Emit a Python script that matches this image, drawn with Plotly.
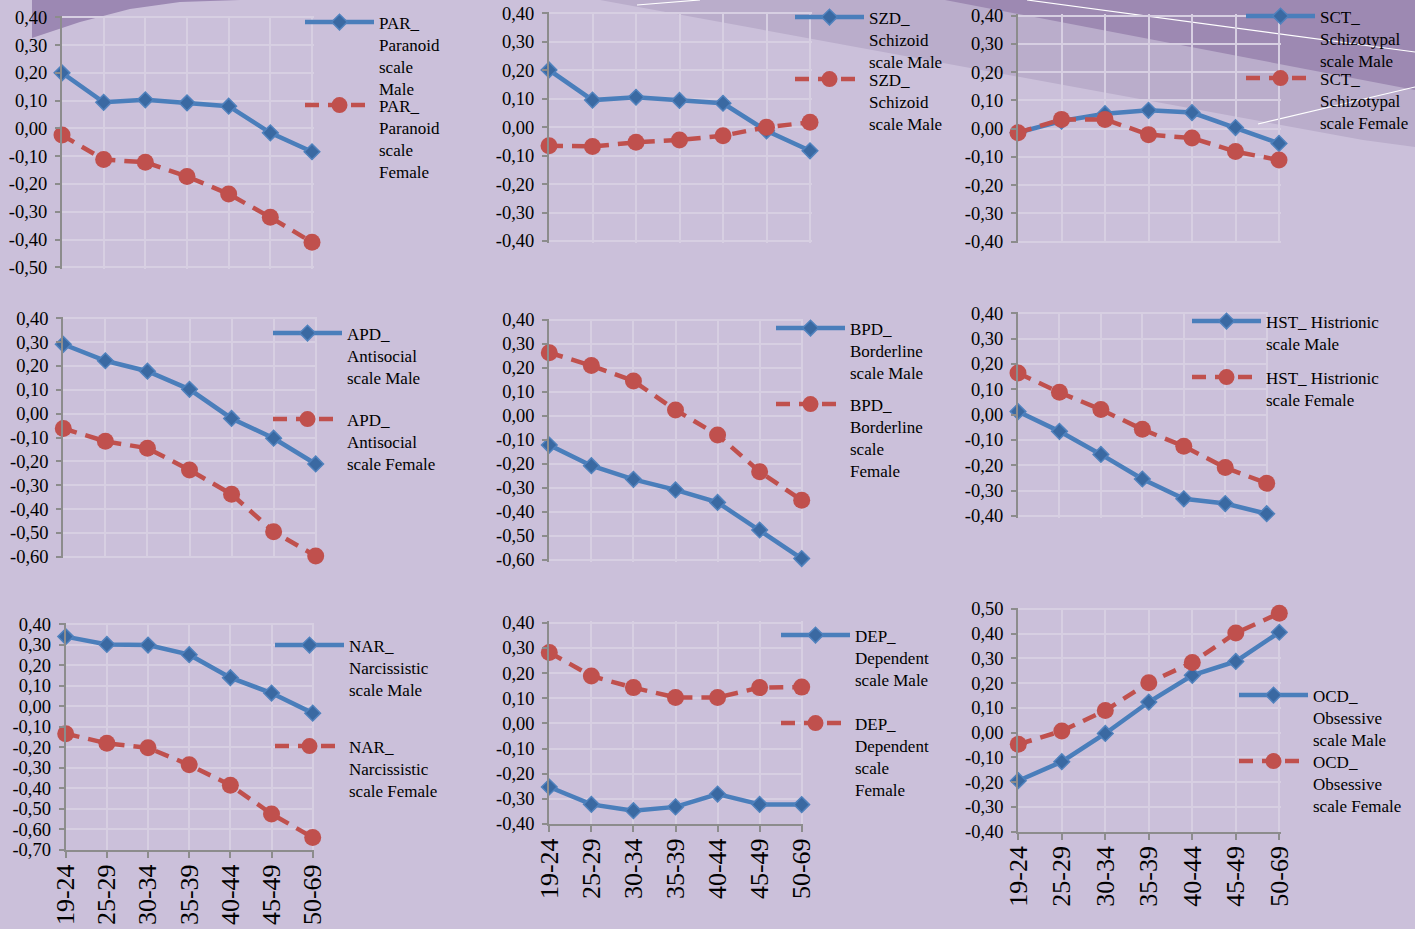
import plotly.graph_objects as go

# ---------------------------------------------------------------- data
age_groups = ["19-24", "25-29", "30-34", "35-39", "40-44", "45-49", "50-69"]

par_male = [0.200, 0.094, 0.103, 0.092, 0.080, -0.016, -0.084]
par_female = [-0.024, -0.112, -0.122, -0.173, -0.236, -0.320, -0.410]

szd_male = [0.201, 0.095, 0.105, 0.094, 0.084, -0.013, -0.083]
szd_female = [-0.065, -0.068, -0.053, -0.045, -0.030, 0.000, 0.017]

sct_male = [-0.014, 0.027, 0.053, 0.065, 0.057, 0.004, -0.052]
sct_female = [-0.014, 0.033, 0.033, -0.021, -0.033, -0.081, -0.111]

apd_male = [0.291, 0.222, 0.178, 0.102, -0.020, -0.103, -0.211]
apd_female = [-0.062, -0.116, -0.145, -0.236, -0.338, -0.495, -0.597]

bpd_male = [-0.121, -0.207, -0.264, -0.308, -0.360, -0.475, -0.594]
bpd_female = [0.264, 0.210, 0.146, 0.025, -0.079, -0.232, -0.351]

hst_male = [0.012, -0.066, -0.157, -0.254, -0.332, -0.351, -0.391]
hst_female = [0.164, 0.088, 0.020, -0.058, -0.125, -0.209, -0.271]

nar_male = [0.340, 0.302, 0.299, 0.252, 0.140, 0.065, -0.033]
nar_female = [-0.133, -0.180, -0.202, -0.285, -0.384, -0.524, -0.639]

dep_male = [-0.253, -0.322, -0.347, -0.332, -0.281, -0.322, -0.323]
dep_female = [0.282, 0.188, 0.142, 0.103, 0.103, 0.142, 0.144]

ocd_male = [-0.194, -0.117, -0.003, 0.124, 0.232, 0.288, 0.406]
ocd_female = [-0.047, 0.007, 0.090, 0.202, 0.284, 0.403, 0.483]

# ---------------------------------------------------------------- styling
W, H = 1415, 929
FONT = "Liberation Serif"
BG = "#CBC0DA"
GRID = "#D7CFE2"
AXIS = "#8C8C8C"
BLUE_LINE = "#4A7EBB"
BLUE_MARK = "#3A69A2"
RED = "#C0504D"
TICK_FONT = 18.5
LEGEND_FONT = 17
XLABEL_FONT = 26
PAD = 1.5          # px kept beyond the outer gridlines so they are drawn
LEG_DX = 79        # legend box left -> legend text start (px)
LEG_DY = 17.5      # legend box top  -> first text line centre (px)

# panel placement in pixels: plot box (left, right, top, bottom),
# legend anchor (text x, male entry y, female entry y)
panels = [
    dict(male=par_male, female=par_female,
         male_name="PAR_<br>Paranoid<br>scale<br>Male",
         female_name="PAR_<br>Paranoid<br>scale<br>Female",
         ymin=-0.5, ymax=0.4, box=(62, 312, 17.3, 267.3),
         leg=(379, 22, 105), xlabels=False),
    dict(male=szd_male, female=szd_female,
         male_name="SZD_<br>Schizoid<br>scale Male",
         female_name="SZD_<br>Schizoid<br>scale Male",
         ymin=-0.4, ymax=0.4, box=(549, 810, 13.3, 241),
         leg=(869, 17, 79), xlabels=False),
    dict(male=sct_male, female=sct_female,
         male_name="SCT_<br>Schizotypal<br>scale Male",
         female_name="SCT_<br>Schizotypal<br>scale Female",
         ymin=-0.4, ymax=0.4, box=(1018, 1279, 15.7, 241.7),
         leg=(1320, 16, 78), xlabels=False),
    dict(male=apd_male, female=apd_female,
         male_name="APD_<br>Antisocial<br>scale Male",
         female_name="APD_<br>Antisocial<br>scale Female",
         ymin=-0.6, ymax=0.4, box=(63.3, 315.7, 318.3, 556.7),
         leg=(347, 333, 419), xlabels=False),
    dict(male=bpd_male, female=bpd_female,
         male_name="BPD_<br>Borderline<br>scale Male",
         female_name="BPD_<br>Borderline<br>scale<br>Female",
         ymin=-0.6, ymax=0.4, box=(549.3, 801.7, 320, 560),
         leg=(850, 328, 404), xlabels=False),
    dict(male=hst_male, female=hst_female,
         male_name="HST_ Histrionic<br>scale Male",
         female_name="HST_ Histrionic<br>scale Female",
         ymin=-0.4, ymax=0.4, box=(1018, 1266.7, 313.3, 516),
         leg=(1266, 321, 377), xlabels=False),
    dict(male=nar_male, female=nar_female,
         male_name="NAR_<br>Narcissistic<br>scale Male",
         female_name="NAR_<br>Narcissistic<br>scale Female",
         ymin=-0.7, ymax=0.4, box=(65.7, 312.7, 624.3, 850),
         leg=(349, 645, 746), xlabels=True),
    dict(male=dep_male, female=dep_female,
         male_name="DEP_<br>Dependent<br>scale Male",
         female_name="DEP_<br>Dependent<br>scale<br>Female",
         ymin=-0.4, ymax=0.4, box=(549.3, 801.7, 622.7, 824),
         leg=(855, 635, 723), xlabels=True),
    dict(male=ocd_male, female=ocd_female,
         male_name="OCD_<br>Obsessive<br>scale Male",
         female_name="OCD_<br>Obsessive<br>scale Female",
         ymin=-0.4, ymax=0.5, box=(1018.3, 1279.3, 609, 831.7),
         leg=(1313, 695, 761), xlabels=True),
]


def comma(v):
    return f"{v:.2f}".replace(".", ",")


def px_path(points):
    """SVG path in paper units from a list of pixel points."""
    parts = [f"{x / W:.5f},{1 - y / H:.5f}" for x, y in points]
    return "M" + " L".join(parts) + " Z"


def legend_box(text_x, entry_y):
    return dict(
        x=(text_x - LEG_DX) / W, y=1 - (entry_y - LEG_DY) / H,
        xanchor="left", yanchor="top", xref="paper", yref="paper",
        bgcolor="rgba(0,0,0,0)", borderwidth=0, itemwidth=69,
        valign="top", tracegroupgap=0,
        font=dict(family=FONT, size=LEGEND_FONT, color="black"),
    )


fig = go.Figure()
layout = dict(
    width=W, height=H,
    margin=dict(l=0, r=0, t=0, b=0, pad=0, autoexpand=False),
    paper_bgcolor=BG, plot_bgcolor="rgba(0,0,0,0)",
    font=dict(family=FONT, color="black", size=TICK_FONT),
    showlegend=True,
)

n_cat = len(age_groups) - 1
for i, p in enumerate(panels):
    n = i + 1
    xa_key = "xaxis" if n == 1 else f"xaxis{n}"
    ya_key = "yaxis" if n == 1 else f"yaxis{n}"
    xa_ref = "x" if n == 1 else f"x{n}"
    ya_ref = "y" if n == 1 else f"y{n}"
    x0, x1, yt, yb = p["box"]
    x_per_px = n_cat / (x1 - x0)
    y_per_px = (p["ymax"] - p["ymin"]) / (yb - yt)
    bpad = 0 if p["xlabels"] else PAD

    steps = int(round((p["ymax"] - p["ymin"]) / 0.1))
    tickvals = [round(p["ymin"] + k * 0.1, 2) for k in range(steps + 1)]
    ticktext = [comma(v) for v in tickvals]

    layout[xa_key] = dict(
        domain=[x0 / W, (x1 + PAD) / W], anchor=ya_ref,
        type="category", range=[0, n_cat + PAD * x_per_px],
        showgrid=True, gridcolor=GRID, gridwidth=1.5, zeroline=False,
        showline=p["xlabels"], linecolor=AXIS, linewidth=2,
        ticks="outside" if p["xlabels"] else "", ticklen=6,
        tickcolor=AXIS, tickwidth=1.5,
        showticklabels=p["xlabels"], tickangle=-90,
        ticklabelstandoff=-4,
        tickfont=dict(family=FONT, size=XLABEL_FONT, color="black"),
        fixedrange=True,
    )
    layout[ya_key] = dict(
        domain=[1 - (yb + bpad) / H, 1 - (yt - PAD) / H], anchor=xa_ref,
        range=[p["ymin"] - bpad * y_per_px, p["ymax"] + PAD * y_per_px],
        tickmode="array", tickvals=tickvals, ticktext=ticktext,
        showgrid=True, gridcolor=GRID, gridwidth=1.5, zeroline=False,
        showline=True, linecolor=AXIS, linewidth=2,
        ticks="outside", ticklen=5, tickcolor=AXIS, tickwidth=1.5,
        ticklabelstandoff=4,
        tickfont=dict(family=FONT, size=TICK_FONT, color="black"),
        fixedrange=True,
    )

    leg_m = "legend" if i == 0 else f"legend{2 * i + 1}"
    leg_f = f"legend{2 * i + 2}"
    text_x, male_y, female_y = p["leg"]
    layout[leg_m] = legend_box(text_x, male_y)
    layout[leg_f] = legend_box(text_x, female_y)

    fig.add_trace(go.Scatter(
        x=age_groups, y=p["male"], name=p["male_name"],
        xaxis=xa_ref, yaxis=ya_ref, legend=leg_m,
        mode="lines+markers", cliponaxis=False,
        line=dict(color=BLUE_LINE, width=4.5),
        marker=dict(symbol="diamond", size=12, color=BLUE_MARK,
                    line=dict(color="#4F81BD", width=1.5)),
        hoverinfo="skip",
    ))
    fig.add_trace(go.Scatter(
        x=age_groups, y=p["female"], name=p["female_name"],
        xaxis=xa_ref, yaxis=ya_ref, legend=leg_f,
        mode="lines+markers", cliponaxis=False,
        line=dict(color=RED, width=4.5, dash="14px,9px"),
        marker=dict(symbol="circle", size=17, color=RED,
                    line=dict(width=0)),
        hoverinfo="skip",
    ))

# slide background swooshes along the top edge
shapes = [
    dict(type="path", xref="paper", yref="paper", layer="below",
         path=px_path([(32, 0), (240, 0), (180, 2), (130, 9), (80, 22), (32, 38)]),
         fillcolor="#9C88B3", line=dict(width=0)),
    dict(type="path", xref="paper", yref="paper", layer="below",
         path=px_path([(600, 0), (1415, 0), (1415, 147), (1363, 140)]),
         fillcolor="#BAADCB", line=dict(width=0)),
    dict(type="path", xref="paper", yref="paper", layer="below",
         path=px_path([(945, 0), (1415, 0), (1415, 90)]),
         fillcolor="#9D89B2", line=dict(width=0)),
    dict(type="line", xref="paper", yref="paper", layer="below",
         x0=637 / W, y0=1 - 5 / H, x1=700 / W, y1=1.0,
         line=dict(color="white", width=1.2)),
    dict(type="line", xref="paper", yref="paper", layer="below",
         x0=1027 / W, y0=1.0, x1=1415 / W, y1=1 - 52 / H,
         line=dict(color="white", width=1.2)),
    dict(type="line", xref="paper", yref="paper", layer="below",
         x0=1258 / W, y0=1 - 124 / H, x1=1415 / W, y1=1 - 87 / H,
         line=dict(color="white", width=1.2)),
]
layout["shapes"] = shapes

fig.update_layout(**layout)
fig.write_html("out.html")
